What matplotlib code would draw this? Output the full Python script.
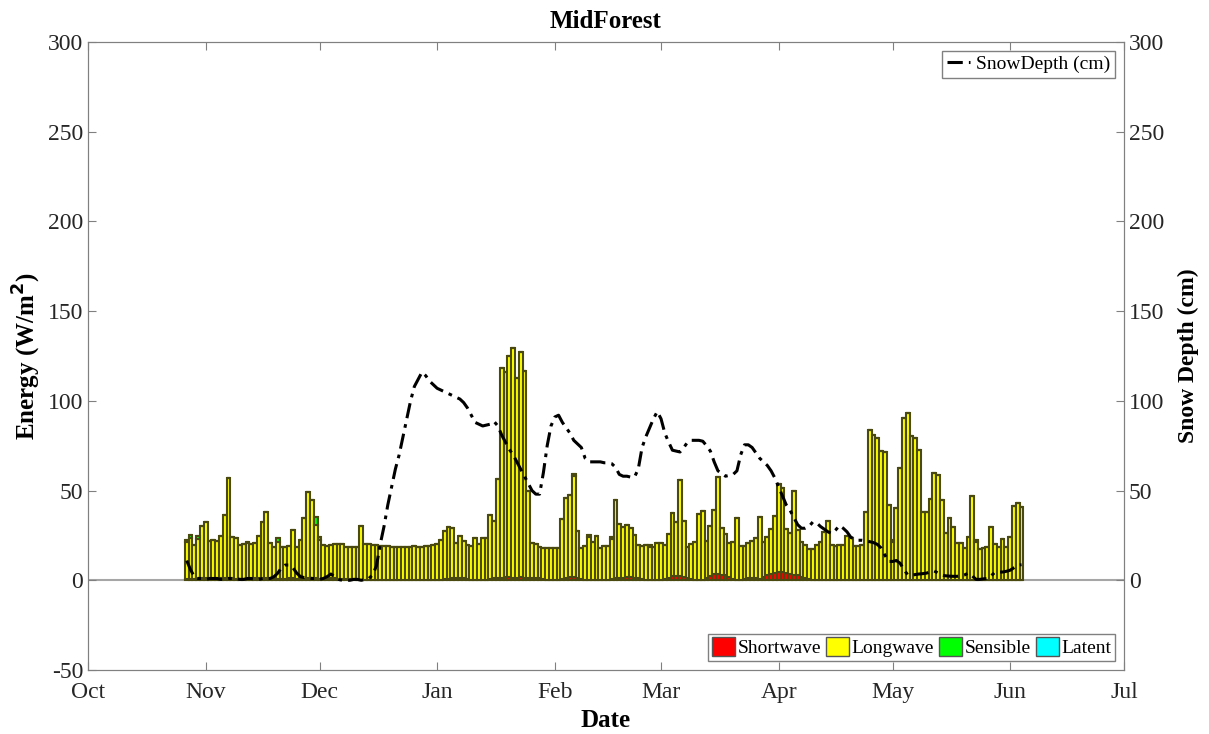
import numpy as np
import pandas as pd
import matplotlib
matplotlib.use("Agg")
import matplotlib.pyplot as plt
from matplotlib.patches import Patch
from matplotlib.lines import Line2D

plt.rcParams['font.family'] = ['Liberation Serif', 'DejaVu Serif']
plt.rcParams['axes.unicode_minus'] = False

# daily energy terms (W/m2), first day 27 Oct
start_day = '2012-10-27'

longwave = [
    # late Oct - Dec 10
    21, 23, 19, 22, 29, 31, 21, 22, 21, 23, 35, 56, 23, 23, 19, 19.5, 20, 19.5, 19.5, 23,
    31, 37, 20, 18, 21, 18, 18, 18, 27, 18, 22, 34, 48, 43, 30, 22, 19, 18, 18, 19,
    19.5, 19.5, 18, 18, 18,
    # Dec 11 - Jan 25
    18, 30, 20, 20, 19.5, 19.5, 19, 19, 19, 18.5, 18, 18, 18, 18, 18, 19, 18.5, 18, 19, 19,
    19.5, 20, 22, 27, 29, 28, 19, 23, 21, 19, 19, 23, 20, 23, 23, 36, 32, 55, 117, 114,
    123, 128, 111, 125, 115, 49,
    # Jan 26 - Mar 12
    19.5, 18.6, 17.7, 17.7, 17.7, 17.5, 17.5, 17.7, 33.5, 44.6, 45.5, 56, 26, 17.7, 18.6, 24,
    21, 24.5, 17.7, 18.6, 18.8, 22.7, 43, 30, 28.3, 28.8, 27, 24, 18.6, 18.6, 19.5, 18.3,
    18.3, 20.4, 20.4, 19, 24.5, 35, 30, 53.5, 31, 17.7, 19.5, 21, 36.8, 38.5,
    # Mar 13 - Apr 24
    21, 28, 35.7, 54, 26.4, 23, 18.6, 20.8, 34.4, 19, 18.6, 19, 20.4, 22.3, 35, 19.5, 21,
    25, 31.6, 49, 47, 24.5, 23, 46.5, 25, 19.5, 18.6, 17, 17, 19.5, 21, 26.5, 33, 19.5,
    19, 19.5, 19.5, 24.5, 23, 19, 18.6, 19.5, 38,
    # Apr 25 - Jun 4
    83.6, 81, 79, 72, 71.5, 41.7, 21, 40, 62.4, 90, 93.3, 80, 79, 72.5, 38, 38, 45, 59.8,
    58.5, 44.6, 26, 34.4, 29.7, 20.8, 20.8, 17.7, 23.8, 46.8, 21, 17, 17.7, 18.6, 29.7, 20,
    18.6, 23, 18.6, 23.8, 41, 42.7, 40.5,
]

shortwave = [
    0.5, 0.5, 0.5, 1, 1, 1.5, 1, 0.5, 1, 1.5, 1.5, 1, 1, 0.5, 0.5, 0.5, 0.5, 0.5, 1, 1.5,
    1.5, 1, 0.5, 0.5, 0.5, 0.5, 0.5, 1, 1, 0.5, 0.5, 0.5, 1, 1.5, 1, 0.5, 0.5, 1, 1.5, 1,
    0.5, 0.5, 0.5, 0.5, 0.5,
    0.3, 0.3, 0.3, 0.3, 0.3, 0.3, 0.3, 0.3, 0.3, 0.3, 0.3, 0.3, 0.3, 0.3, 0.3, 0.3, 0.3, 0.3,
    0.3, 0.3, 0.3, 0.3, 0.3, 0.5, 0.5, 1, 1.5, 1.5, 1, 0.5, 0.3, 0.3, 0.3, 0.3, 0.3, 0.5,
    1, 1.5, 1.5, 2, 2, 1.5, 1.5, 2, 1.5, 1,
    1.5, 1.5, 1, 0.5, 0.3, 0.3, 0.3, 0.3, 0.5, 1.5, 2, 2, 1.5, 0.5, 0.3, 0.3, 0.3, 0.3,
    0.3, 0.3, 0.3, 0.5, 1.5, 1.5, 1.5, 2, 2, 1.5, 1, 0.5, 0.3, 0.3, 0.3, 0.3, 0.3, 0.5,
    1.5, 2.5, 2.5, 2.5, 2, 1, 0.5, 0.3, 0.3, 0.3,
    1, 2.5, 3.5, 3.5, 3, 3, 2, 0.5, 0.3, 0.3, 0.5, 1.5, 1.5, 1, 0.5, 2, 3, 3.5, 4, 4.5,
    4.5, 4, 3.5, 3, 3, 2, 1, 0.5, 0.3, 0.3, 0.3, 0.3, 0.3, 0.3, 0.3, 0.3, 0.3, 0.3, 0.3,
    0.3, 0.3, 0.3, 0.3,
    0.2, 0.2, 0.3, 0.2, 0.2, 0.2, 0.3, 0.2, 0.2, 0.2, 0.2, 0.2, 0.3, 0.2, 0.2, 0.2, 0.2,
    0.2, 0.2, 0.3, 0.2, 0.2, 0.2, 0.2, 0.2, 0.2, 0.2, 0.2, 0.3, 0.2, 0.2, 0.2, 0.2, 0.2,
    0.2, 0.2, 0.2, 0.2, 0.2, 0.2, 0.2,
]

sensible_dates = ['2012-10-27', '2012-10-28', '2012-10-30', '2012-11-12', '2012-11-20',
                  '2012-11-30', '2012-12-01', '2013-02-06', '2013-02-10', '2013-02-16',
                  '2013-02-26', '2013-05-01', '2013-05-23']
sensible_vals = [1, 2, 1.5, 1, 2, 4, 1.5, 1.5, 1, 1, 1, 1, 1]

snow_depth = [
    11, 6, 2,
    1, 1, 0.5, 1, 1, 1, 0.5, 0.5, 1, 1, 1, 0.5, 0.5, 1, 1, 0.5, 0.5, 1,
    1, 1, 2, 4, 7, 8.5, 8.5, 7, 4, 2,
    1.5, 1.5, 1, 1, 0.5, 1, 2, 3.5, 2, 0.5,
    0, 0, 0, 0.5, 0.5, 0, 0.5, 1, 3, 8, 20, 30,
    42, 52, 62, 70, 80, 90, 100, 108, 112, 116,
    114, 111, 109, 107, 106, 105, 104, 103, 102, 101,
    99, 96, 92, 88, 87, 86, 86.5, 87, 88.5, 86,
    81, 77, 73, 70, 66, 62, 58, 54, 50, 48,
    48, 60, 75, 86, 91, 92, 88, 85, 82, 78, 76, 74,
    68, 66, 66, 66, 66, 65.5, 65.5, 65, 63,
    59, 58, 58, 57.5, 57.5, 62,
    74, 80, 85, 90, 94, 90, 82,
    77, 72.5, 72, 71.5, 74, 77,
    78, 78, 78, 77.5, 75, 72, 66,
    61, 59.5, 58, 58.5, 59, 61, 70,
    75.5, 75.5, 74, 71, 68, 66,
    64, 61, 57, 52, 47, 42, 39, 35, 31, 29,
    29, 30, 32.5, 32, 30, 28.5, 27, 26,
    28, 30.5, 29, 27, 24, 23, 22.3,
    22.3, 22, 21.5, 21, 20, 18, 14, 10.5,
    10.5, 11, 9.5, 6, 3, 2.8, 3.2,
    3.5, 3.7, 4, 4.8, 5.2, 4, 2.8, 2.5,
    2.3, 2.2, 2.2, 2.5, 3, 4, 2.5, 0.5, 0.5, 0.8,
    1, 2.5, 4.5, 4.6, 4.6, 5, 5.6, 7, 8.4, 8.7,
]

month_labels = ['Oct', 'Nov', 'Dec', 'Jan', 'Feb', 'Mar', 'Apr', 'May', 'Jun', 'Jul']

assert len(longwave) == len(shortwave) == len(snow_depth), (len(longwave), len(shortwave), len(snow_depth))

days = pd.date_range(start_day, periods=len(longwave), freq='D')
sw = np.array(shortwave, dtype=float)
lw = np.array(longwave, dtype=float)
sens = np.zeros(len(days))
for d, v in zip(sensible_dates, sensible_vals):
    sens[(pd.Timestamp(d) - days[0]).days] = v
lat = np.zeros(len(days))

fig, ax = plt.subplots(figsize=(12.09, 7.34), dpi=100)
fig.subplots_adjust(left=0.0728, right=0.9297, bottom=0.0872, top=0.9428)

ax.axhline(0, color='#a6a6a6', lw=1.5, zorder=0.5)
w = 1.0
edge = dict(edgecolor='#4a4a10', lw=1.5)
ax.bar(days, sw, width=w, color='#ff0000', **edge)
ax.bar(days, lw, width=w, bottom=sw, color='#ffff00', **edge)
ax.bar(days, sens, width=w, bottom=sw + lw, color='#00ff00', **edge)
ax.bar(days, lat, width=w, bottom=sw + lw + sens, color='#00ffff', **edge)

months = pd.date_range('2012-10-01', '2013-07-01', freq='MS')
ax.set_xlim(months[0], months[-1])
ax.set_xticks(months)
ax.set_xticklabels(month_labels)
ax.set_ylim(-50, 300)
ax.set_yticks(range(-50, 301, 50))

ax2 = ax.twinx()
ax2.plot(days, snow_depth, color='black', ls=(0, (5, 2, 1.2, 2)), lw=2.2)
ax2.set_ylim(-50, 300)
ax2.set_yticks(range(0, 301, 50))

spine_col = '#808080'
for a in (ax, ax2):
    for s in a.spines.values():
        s.set_color(spine_col)
    a.tick_params(direction='in', length=6, labelsize=17, color=spine_col, labelcolor='#262626')
ax.tick_params(top=True)
ax.tick_params(axis='x', pad=9)

ax.set_title('MidForest', fontsize=18, fontweight='bold', pad=10)
ax.set_xlabel('Date', fontsize=18, fontweight='bold', labelpad=4)
ax.set_ylabel('Energy (W/m$^\\mathbf{2}$)', fontsize=18, fontweight='bold')
ax.yaxis.set_label_coords(-0.043, 0.5)
ax2.set_ylabel('Snow Depth (cm)', fontsize=17, fontweight='bold', labelpad=10)

snow_handle = Line2D([], [], color='black', ls=(0, (5, 2, 1.2, 2)), lw=2.2)
leg1 = ax2.legend([snow_handle], ['SnowDepth (cm)'], loc='upper right', fontsize=14,
                  fancybox=False, edgecolor=spine_col, framealpha=1, handlelength=1.2,
                  handletextpad=0.3, borderpad=0.25, borderaxespad=0.45)
ax2.add_artist(leg1)
patches = [Patch(facecolor=c, edgecolor='#555555') for c in ['#ff0000', '#ffff00', '#00ff00', '#00ffff']]
ax2.legend(patches, ['Shortwave', 'Longwave', 'Sensible', 'Latent'], loc='lower right', ncol=4,
           fontsize=14, fancybox=False, edgecolor=spine_col, framealpha=1, handlelength=1.2,
           handleheight=1.1, handletextpad=0.12, columnspacing=0.25, borderpad=0.2,
           borderaxespad=0.45)

fig.savefig('out.png', dpi=100)
